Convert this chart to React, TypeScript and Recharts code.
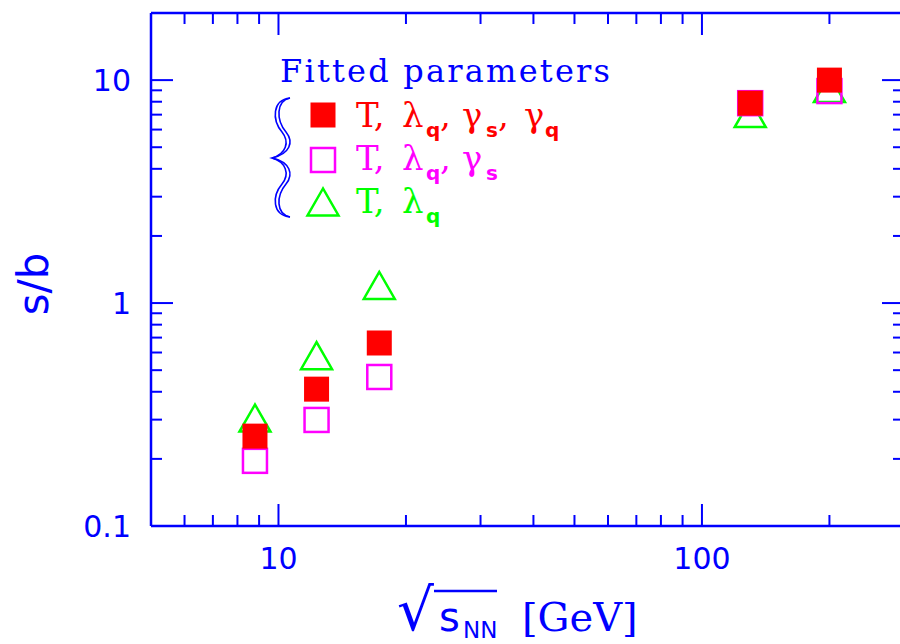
import { ReferenceLine, Scatter, ScatterChart, XAxis, YAxis } from "recharts";

// collision energies (GeV) and s/b for the three fit variants
const energies = [8.8, 12.3, 17.3, 130, 200];
const sbFull = [0.253, 0.411, 0.662, 7.88, 10.0]; // T, λq, γs, γq
const sbNoGq = [0.196, 0.299, 0.466, 7.88, 8.93]; // T, λq, γs
const sbTLam = [0.305, 0.581, 1.2, 7.08, 9.16]; // T, λq

const xTicks = [6, 7, 8, 9, 10, 20, 30, 40, 50, 60, 70, 80, 90, 100, 200];
const xMajor = [10, 100];
const yTicks = [0.1, 0.2, 0.3, 0.4, 0.5, 0.6, 0.7, 0.8, 0.9, 1, 2, 3, 4, 5, 6, 7, 8, 9, 10];
const yMajor = [0.1, 1, 10];

const BLUE = "#0000ff";
const RED = "#ff0000";
const MAGENTA = "#ff00ff";
const GREEN = "#00ff00";

const W = 905;
const H = 644;
const PLOT_TOP = 13;
const PLOT_RIGHT = W - 1;
const MAJOR = 22;
const MINOR = 11;

const toPts = (ys: number[]) => energies.map((x, i) => ({ x, y: ys[i] }));

const XTick = (p: any) => {
  const { x, y, payload } = p;
  const major = xMajor.includes(payload.value);
  const len = major ? MAJOR : MINOR;
  return (
    <g>
      <line x1={x} x2={x} y1={y} y2={y - len} stroke={BLUE} strokeWidth={2} />
      <line x1={x} x2={x} y1={PLOT_TOP} y2={PLOT_TOP + len} stroke={BLUE} strokeWidth={2} />
      {major && (
        <text x={x} y={y + 43} textAnchor="middle" fill={BLUE} fontFamily="DejaVu Sans" fontSize={30}>
          {payload.value}
        </text>
      )}
    </g>
  );
};

const YTick = (p: any) => {
  const { x, y, payload } = p;
  const major = yMajor.includes(payload.value);
  const len = major ? MAJOR : MINOR;
  return (
    <g>
      <line x1={x} x2={x + len} y1={y} y2={y} stroke={BLUE} strokeWidth={2} />
      <line x1={PLOT_RIGHT - len} x2={PLOT_RIGHT} y1={y} y2={y} stroke={BLUE} strokeWidth={2} />
      {major && (
        <text x={x - 20} y={y + 11} textAnchor="end" fill={BLUE} fontFamily="DejaVu Sans" fontSize={30}>
          {payload.value}
        </text>
      )}
    </g>
  );
};

const FilledSquare = ({ cx, cy }: any) => (
  <rect x={cx - 12.5} y={cy - 12.5} width={25} height={25} fill={RED} />
);
const OpenSquare = ({ cx, cy }: any) => (
  <rect x={cx - 12} y={cy - 12} width={24} height={24} fill="none" stroke={MAGENTA} strokeWidth={2.5} />
);
const Triangle = ({ cx, cy }: any) => (
  <polygon
    points={`${cx},${cy - 13.5} ${cx - 15.5},${cy + 13.5} ${cx + 15.5},${cy + 13.5}`}
    fill="none"
    stroke={GREEN}
    strokeWidth={2.5}
  />
);

const serif = "DejaVu Serif";
const sub = { fontFamily: "DejaVu Sans", fontWeight: 700, fontSize: 20 };

// one legend line: pieces placed at their own x so spacing follows the original
const LegendRow = ({ y, color, parts }: { y: number; color: string; parts: [number, string, boolean][] }) => (
  <g fill={color}>
    {parts.map(([x, s, isSub], i) =>
      isSub ? (
        <text key={i} x={x} y={y + 10} {...sub}>
          {s}
        </text>
      ) : (
        <text key={i} x={x} y={y} fontFamily={serif} fontSize={34}>
          {s}
        </text>
      )
    )}
  </g>
);

function Overlay() {
  return (
    <svg width={900} height={644} style={{ position: "absolute", left: 0, top: 0, pointerEvents: "none" }}>
      <text x={280} y={82} fill={BLUE} fontFamily={serif} fontSize={32} textLength={330}>
        Fitted parameters
      </text>
      <g fill="none" stroke={BLUE} strokeWidth={1.6}>
        <path d="M290,98 C272,100 272,120 282,132 C290,142 286,154 272,158 C286,162 290,174 282,184 C272,196 272,215 290,217" />
        <path d="M290,98 C276,101 276,120 286,132 C294,142 290,154 272,158 C290,162 294,174 286,184 C276,196 276,214 290,217" />
      </g>
      <rect x={310.5} y={102.5} width={25} height={25} fill={RED} />
      <rect x={311} y={148} width={24} height={24} fill="none" stroke={MAGENTA} strokeWidth={2.5} />
      <polygon points="323,188.5 307.5,215.5 338.5,215.5" fill="none" stroke={GREEN} strokeWidth={2.5} />

      <LegendRow
        y={127}
        color={RED}
        parts={[
          [356, "T,", false],
          [402, "λ", false],
          [426, "q", true],
          [440, ",", false],
          [462, "γ", false],
          [486, "s", true],
          [498, ",", false],
          [524, "γ", false],
          [545, "q", true],
        ]}
      />
      <LegendRow
        y={170}
        color={MAGENTA}
        parts={[
          [356, "T,", false],
          [402, "λ", false],
          [426, "q", true],
          [440, ",", false],
          [462, "γ", false],
          [486, "s", true],
        ]}
      />
      <LegendRow
        y={213}
        color={GREEN}
        parts={[
          [356, "T,", false],
          [402, "λ", false],
          [426, "q", true],
        ]}
      />

      <text
        x={48}
        y={284}
        transform="rotate(-90 48 284)"
        textAnchor="middle"
        fill={BLUE}
        fontFamily="DejaVu Sans"
        fontSize={42}
      >
        s/b
      </text>

      <text x={397} y={630} fill={BLUE} fontFamily="DejaVu Sans" fontSize={58}>
        √
      </text>
      <line x1={434} x2={497} y1={591} y2={591} stroke={BLUE} strokeWidth={2.5} />
      <text x={439} y={631} fill={BLUE} fontFamily="DejaVu Sans" fontSize={40}>
        s
      </text>
      <text x={463} y={638} fill={BLUE} fontFamily="DejaVu Sans" fontSize={23}>
        NN
      </text>
      <text x={522} y={631} fill={BLUE} fontFamily={serif} fontSize={40}>
        [GeV]
      </text>
    </svg>
  );
}

export default function App() {
  return (
    <div style={{ position: "absolute", left: 0, top: 0, width: 900, height: 644, overflow: "hidden", background: "#fff" }}>
      <ScatterChart width={W} height={H} margin={{ top: PLOT_TOP, right: 1, bottom: 0, left: 0 }}>
        <XAxis
          type="number"
          dataKey="x"
          scale="log"
          domain={[5, 300]}
          allowDataOverflow
          ticks={xTicks}
          interval={0}
          height={118}
          tickSize={0}
          tickMargin={0}
          tickLine={false}
          axisLine={{ stroke: BLUE, strokeWidth: 2.5 }}
          tick={<XTick />}
        />
        <YAxis
          type="number"
          dataKey="y"
          scale="log"
          domain={[0.1, 20]}
          allowDataOverflow
          ticks={yTicks}
          interval={0}
          width={151}
          tickSize={0}
          tickMargin={0}
          tickLine={false}
          axisLine={{ stroke: BLUE, strokeWidth: 2.5 }}
          tick={<YTick />}
        />
        <ReferenceLine y={20} stroke={BLUE} strokeWidth={2.5} />
        <ReferenceLine x={300} stroke={BLUE} strokeWidth={2.5} />
        <Scatter data={toPts(sbTLam)} shape={<Triangle />} isAnimationActive={false} />
        <Scatter data={toPts(sbNoGq)} shape={<OpenSquare />} isAnimationActive={false} />
        <Scatter data={toPts(sbFull)} shape={<FilledSquare />} isAnimationActive={false} />
      </ScatterChart>
      <Overlay />
    </div>
  );
}
